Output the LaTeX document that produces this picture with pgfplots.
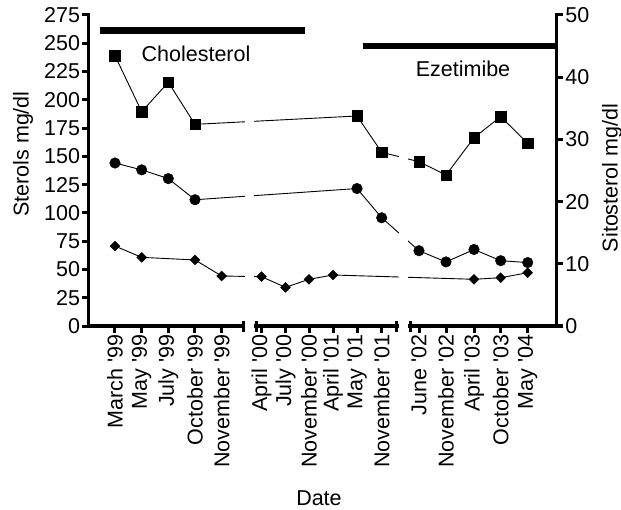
\documentclass[border=0pt]{standalone}
\usepackage{fontspec}
\setmainfont{Liberation Sans}
\usepackage{pgfplots}
\pgfplotsset{compat=1.18}
\usepackage{pgfplotstable}

% x = position along the date axis (segments are broken), y = value
\pgfplotstableread{
x     y
115   239
141.7 189.5
168.3 215.5
195   178.3
357   185.7
381.7 153.6
419   145.3
446   133.5
474   166.5
500.7 185.1
527.7 161.5
}\chol
% sitosterol, right axis (mg/dl)
\pgfplotstableread{
x     y
115   26.2
141.7 25.1
168.3 23.7
195   20.3
357   22.1
381.7 17.4
419   12.1
446   10.3
474   12.3
500.7 10.5
527.7 10.2
}\sito
\pgfplotstableread{
x     y
115   70.7
141.7 60.7
195   58.4
221.7 44.2
261.5 43.6
285.5 34.2
309   41.3
333   45.1
474   41.3
500.7 42.7
527.7 47.1
}\dia

\newcommand{\q}{\textquotesingle}

\pgfplotsset{
  base/.style={
    width=468bp, height=311bp, scale only axis,
    xmin=88.7, xmax=556.7,
    axis line style={line width=3.5bp, line cap=rect},
    tick align=outside, major tick length=6.5bp,
    every tick/.append style={black, line width=3bp},
    /pgf/number format/assume math mode=true,
    ticklabel style={inner sep=2bp},
  },
}

\begin{document}
\begin{tikzpicture}[font=\fontsize{21.5bp}{25bp}\selectfont]
% right axis (sitosterol): spine, ticks and the connecting lines
\begin{axis}[base, ymin=0, ymax=50,
    axis y line*=right, axis x line=none,
    ytick={0,10,...,50},
    ylabel={Sitosterol mg/dl},
    ylabel style={at={(axis description cs:1.1182,0.476)}, anchor=center},
]
\addplot[black, line width=0.9bp, mark=none] table[x=x,y=y] {\sito};
\end{axis}

% left axis (sterols)
\begin{axis}[base, name=main, ymin=0, ymax=275, clip=false,
    axis x line*=bottom, axis y line*=left,
    ytick={0,25,...,275},
    xtick={115,141.7,168.3,195,221.7,261.5,285.5,309,333,357,381.7,419,446,474,500.7,527.7},
    xticklabels={March \q99, May \q99, July \q99, October \q99, November \q99,
      April \q00, July \q00, November \q00, April \q01, May \q01, November \q01,
      June \q02, November \q02, April \q03, October \q03, May \q04},
    xticklabel style={rotate=90, anchor=east},
    extra x ticks={243.5,256,396.7,410},
    extra x tick labels={},
    extra x tick style={tick align=center, major tick length=11bp},
    xlabel={Date},
    xlabel style={at={(axis description cs:0.492,-0.553)}, anchor=center},
    ylabel={Sterols mg/dl},
    ylabel style={at={(axis description cs:-0.1404,0.553)}, anchor=center},
]
\addplot[black, line width=0.9bp, mark=none] table[x=x,y=y] {\chol};
\addplot[black, line width=0.9bp, mark=none] table[x=x,y=y] {\dia};
% axis breaks
\fill[white] (axis cs:245.3,-9) rectangle (axis cs:254.2,272);
\fill[white] (axis cs:398.5,-9) rectangle (axis cs:408.2,272);
\addplot[only marks, mark=square*, mark size=5.3bp, black] table[x=x,y=y] {\chol};
\addplot[only marks, mark=square*, mark size=3.5bp, black, mark options={rotate=45}] table[x=x,y=y] {\dia};
% treatment periods
\addplot[black, line width=7bp, mark=none] coordinates {(100,261.1) (305,261.1)};
\addplot[black, line width=6bp, mark=none] coordinates {(363.3,247.8) (556.7,247.8)};
\node at (axis cs:196,240.8) {Cholesterol};
\node at (axis cs:463,227.2) {Ezetimibe};
\end{axis}

% sitosterol markers on top of the breaks
\begin{axis}[base, ymin=0, ymax=50, hide axis]
\addplot[only marks, mark=*, mark size=5.3bp, black] table[x=x,y=y] {\sito};
\end{axis}

\pgfresetboundingbox
\path ([shift={(-88.7bp,-184bp)}]main.south west) rectangle ([shift={(532.3bp,326bp)}]main.south west);
\end{tikzpicture}
\end{document}
